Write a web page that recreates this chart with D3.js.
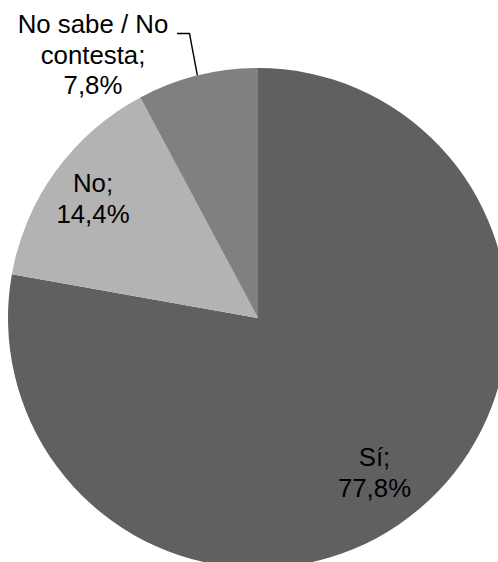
<!DOCTYPE html>
<html>
<head>
<meta charset="utf-8">
<script src="https://cdn.jsdelivr.net/npm/d3@7"></script>
<style>
  html, body { margin: 0; padding: 0; background: #ffffff; overflow: hidden; }
  svg { display: block; }
  text { font-family: "Liberation Sans", Arial, sans-serif; }
</style>
</head>
<body>
<svg id="chart" width="498" height="562"></svg>
<script>
// ---- data ----
const categories = ["Sí", "No", "No sabe / No contesta"];
const values = [77.8, 14.4, 7.8];
const valueLabels = ["77,8%", "14,4%", "7,8%"];
const labelLines = [["Sí;", "77,8%"], ["No;", "14,4%"], ["No sabe / No", "contesta;", "7,8%"]];
const colors = ["#606060", "#b3b3b3", "#808080"];

// ---- layout ----
const W = 498, H = 562;
const cx = 258, cy = 318, R = 250;
const fontSize = 25.8, lineH = 30.5;
// label text centre (x) and first-line baseline (y)
const labelPos = [
  { x: 374.5, y: 466 },
  { x: 93, y: 192 },
  { x: 93, y: 33 }
];

const svg = d3.select("#chart");
const g = svg.append("g").attr("transform", `translate(${cx},${cy})`);

const pie = d3.pie().sort(null).value(d => d)(values);
const arc = d3.arc().innerRadius(0).outerRadius(R);

g.selectAll("path.slice")
  .data(pie)
  .enter().append("path")
  .attr("class", "slice")
  .attr("d", arc)
  .attr("fill", (d, i) => colors[i]);

// labels
labelLines.forEach((lines, i) => {
  const t = svg.append("text")
    .attr("text-anchor", "middle")
    .attr("font-size", fontSize)
    .attr("fill", "#000");
  lines.forEach((ln, k) => {
    t.append("tspan")
      .attr("x", labelPos[i].x)
      .attr("y", labelPos[i].y + k * lineH)
      .text(ln);
  });
});

// leader line for the small slice
const small = pie[2];
const mid = (small.startAngle + small.endAngle) / 2;
const ex = cx + R * Math.sin(mid), ey = cy - R * Math.cos(mid);
const line = d3.line();
svg.append("path")
  .attr("d", line([[177, 33.5], [189.5, 33.5], [ex, ey]]))
  .attr("fill", "none")
  .attr("stroke", "#000")
  .attr("stroke-width", 1.4);
</script>
</body>
</html>
